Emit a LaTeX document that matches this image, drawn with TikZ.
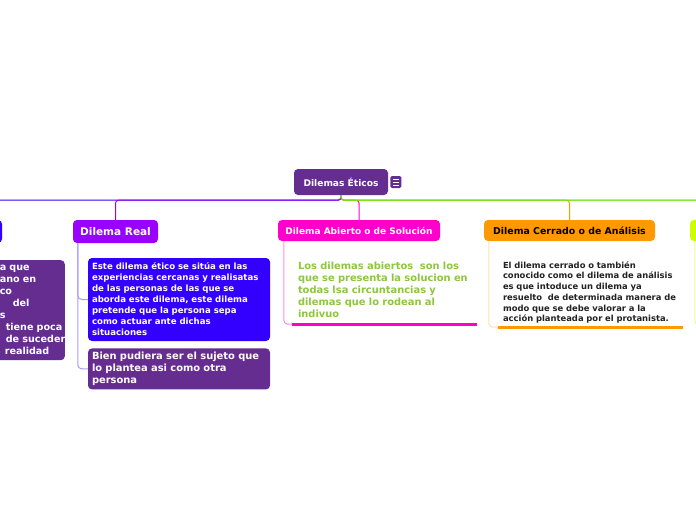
\documentclass[tikz,border=0pt]{standalone}
\usepackage{fontspec}
\setmainfont{DejaVu Sans}
\usepackage{tikz}
\usetikzlibrary{positioning}
\definecolor{rootpurple}{HTML}{662D91}
\definecolor{realviolet}{HTML}{9900FF}
\definecolor{deepblue}{HTML}{3300FF}
\definecolor{hotpink}{HTML}{FF00CC}
\definecolor{amber}{HTML}{FF9900}
\definecolor{lime}{HTML}{CCFF00}
\definecolor{leafgreen}{HTML}{55DD22}
\definecolor{notegreen}{HTML}{8DC63F}
\definecolor{notedark}{HTML}{222222}
\tikzset{
    topic/.style={rectangle, rounded corners=4pt, align=center, font=\bfseries, text=white, inner sep=0pt},
    leaf/.style={rectangle, rounded corners=4pt, align=left, font=\bfseries, text=white, inner xsep=4pt, inner ysep=0pt},
    note/.style={rectangle, align=left, font=\bfseries, inner ysep=0pt},
    branch/.style={line width=1pt, rounded corners=3pt},
    twig/.style={line width=1pt, rounded corners=4pt},
    underline/.style={line width=3pt}
}
\hyphenpenalty=10000

\begin{document}
\begin{tikzpicture}[x=1pt, y=-1pt]
\useasboundingbox[fill=white] (0,0) rectangle (696,520);

\node[topic, fill=rootpurple, minimum width=94pt, minimum height=26pt, font=\fontsize{9.1}{11}\selectfont\bfseries] (root) at (341,182) {Dilemas Éticos};
\node[rectangle, rounded corners=1.5pt, fill=rootpurple, minimum width=11pt, minimum height=12pt, inner sep=0pt, right=2pt of root] (menu) {};
\foreach \k in {-3,0,3}
    \draw[white, line width=0.9pt] ([xshift=-3pt, yshift=\k pt]menu.center) -- ++(6,0);

\node[topic, fill=deepblue, minimum width=62pt, minimum height=23pt] (leftmain) at (-29,231.5) {};
\node[leaf, fill=rootpurple, anchor=north east, minimum height=100pt, text width=92pt, inner xsep=4pt, font=\fontsize{9.6}{12}\selectfont\bfseries] (leftnote) at (65,260) {\hspace*{31pt}a que\\\hspace*{31pt}ano en\\\hspace*{31pt}co\\\hspace*{44pt}del\\\hspace*{31pt}s\\\hspace*{37pt}\mbox{tiene poca}\\\hspace*{37pt}\mbox{de suceder}\\\hspace*{36pt}realidad};

\node[topic, fill=realviolet, minimum width=85pt, minimum height=23pt, font=\fontsize{10.5}{12}\selectfont\bfseries] (real) at (115.5,231.5) {Dilema Real};
\node[leaf, fill=deepblue, minimum width=182pt, minimum height=83pt, text width=174pt, font=\fontsize{8.6}{11}\selectfont\bfseries] (realnote) at (179,299.5) {Este dilema ético se sitúa en las\\experiencias cercanas y realisatas\\de las personas de las que se\\aborda este dilema, este dilema\\pretende que la persona sepa\\como actuar ante dichas\\situaciones};
\node[leaf, fill=rootpurple, minimum width=182pt, minimum height=41pt, text width=174pt, below=7pt of realnote, font=\fontsize{9.9}{12}\selectfont\bfseries] (sujeto) {Bien pudiera ser el sujeto que\\lo plantea asi como otra\\persona};

\node[topic, fill=hotpink, minimum width=162pt, minimum height=21pt, font=\fontsize{9}{10}\selectfont\bfseries] (abierto) at (359,230.5) {Dilema Abierto o de Solución};
\node[note, text=notegreen, minimum width=185pt, minimum height=69pt, text width=173pt, inner xsep=6pt, font=\fontsize{9.9}{12}\selectfont\bfseries] (abiertonote) at (384.5,289.5) {Los dilemas abiertos \ son los\\que se presenta la solucion en\\todas lsa circuntancias y\\dilemas que lo rodean al\\indivuo};

\node[topic, fill=amber, text=black, minimum width=171pt, minimum height=21pt, font=\fontsize{9.4}{11}\selectfont\bfseries] (cerrado) at (569.5,230.5) {Dilema Cerrado o de Análisis};
\node[note, text=notedark, minimum width=185pt, minimum height=69pt, text width=175pt, inner xsep=5pt, font=\fontsize{8.4}{10.7}\selectfont\bfseries] (cerradonote) at (590.5,292.5) {El dilema cerrado o también\\conocido como el dilema de análisis\\es que intoduce un dilema ya\\resuelto \ de determinada manera de\\modo que se debe valorar a la\\acción planteada por el protanista.};

\node[topic, fill=lime, minimum width=70pt, minimum height=21pt] (rightmain) at (725,230.5) {};
\coordinate (farright) at (760,220);
\coordinate (rightnote) at (740,325);

\draw[branch, deepblue] (root.south) -- ++(0,5) -| (leftmain.north);
\draw[branch, realviolet] (root.south) -- ++(0,5) -| (real.north);
\draw[branch, hotpink] (root.south) -- ++(0,5) -| (abierto.north);
\draw[branch, amber] (root.south) -- ++(0,5) -| (cerrado.north);
\draw[branch, lime] (root.south) -- ++(0,5) -| (rightmain.north);
\draw[branch, leafgreen] (root.south) -- ++(0,5) -| (farright);

\draw[twig, deepblue!40] ([xshift=5pt]real.south west) |- (realnote.west);
\draw[twig, deepblue!40] ([xshift=5pt]real.south west) |- (sujeto.west);
\draw[twig, hotpink!45] ([xshift=6pt]abierto.south west) |- (abiertonote.south west);
\draw[twig, amber!30] ([xshift=5pt]cerrado.south west) |- (cerradonote.south west);
\draw[twig, lime!45] ([xshift=5pt]rightmain.south west) |- (rightnote);

\draw[underline, hotpink] (abiertonote.south west) -- (abiertonote.south east);
\draw[underline, amber] (cerradonote.south west) -- (cerradonote.south east);

\end{tikzpicture}
\end{document}
